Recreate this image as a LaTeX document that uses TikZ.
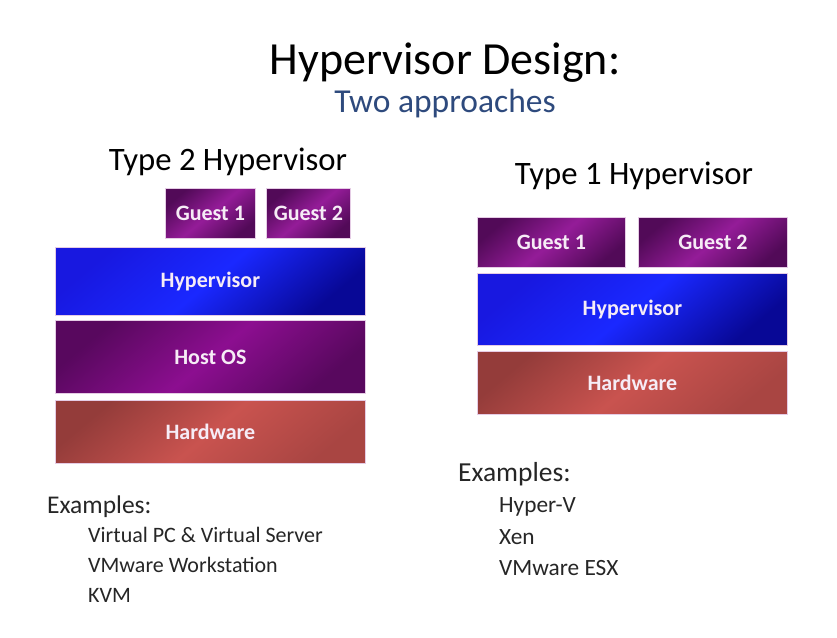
\documentclass[tikz,border=0pt]{standalone}
\usepackage{fontspec}
\setmainfont{Carlito}
\definecolor{subblue}{HTML}{2E4A7D}
\definecolor{txtgray}{HTML}{262626}
\definecolor{gDark}{HTML}{520A58}
\definecolor{gMid}{HTML}{941C98}
\definecolor{hDark}{HTML}{1818E0}
\definecolor{hMid}{HTML}{1A28FF}
\definecolor{hEnd}{HTML}{080896}
\definecolor{oDark}{HTML}{58085E}
\definecolor{oMid}{HTML}{8C0E90}
\definecolor{rDark}{HTML}{943C3A}
\definecolor{rMid}{HTML}{C9534F}
\definecolor{labw}{HTML}{F6ECF6}
\tikzset{
  layer/.style={draw=white!80!violet, line width=0.8pt, anchor=north west, inner sep=0pt,
    text=labw, font=\bfseries\fontsize{22}{25}\selectfont},
  guestbox/.style={layer, top color=gDark, bottom color=gDark, middle color=gMid, shading angle=40},
  hypbox/.style={layer, top color=hDark, bottom color=hEnd, middle color=hMid, shading angle=40},
  hostbox/.style={layer, top color=oDark, bottom color=oDark, middle color=oMid, shading angle=40},
  hwbox/.style={layer, top color=rDark, bottom color=rDark!60!rMid, middle color=rMid, shading angle=40},
  title/.style={anchor=base, inner sep=0pt, text=black, font=\fontsize{46}{52}\selectfont},
  subtitle/.style={anchor=base, inner sep=0pt, text=subblue, font=\fontsize{33.5}{38}\selectfont},
  typelabel/.style={anchor=base, inner sep=0pt, text=black, font=\fontsize{32.7}{38}\selectfont},
  exheadL/.style={anchor=base west, inner sep=0pt, text=txtgray, font=\fontsize{25.5}{29}\selectfont},
  exitemL/.style={anchor=base west, inner sep=0pt, text=txtgray, font=\fontsize{22}{26}\selectfont},
  exheadR/.style={anchor=base west, inner sep=0pt, text=txtgray, font=\fontsize{27.5}{31}\selectfont},
  exitemR/.style={anchor=base west, inner sep=0pt, text=txtgray, font=\fontsize{23.3}{27}\selectfont},
}
\begin{document}
\begin{tikzpicture}[x=1pt,y=-1pt]
\useasboundingbox[fill=white] (0,0) rectangle (837,637);
% titles
\node[title] (t) at (445,74) {Hypervisor Design:};
\node[subtitle] (st) at (445,112) {Two approaches};
% Type 2
\node[typelabel] (t2) at (228,170) {Type 2 Hypervisor};
\node[guestbox, minimum width=90pt, minimum height=50pt] (l2g1) at (165,188) {Guest 1};
\node[guestbox, minimum width=84pt, minimum height=50pt] (l2g2) at (266,188) {Guest 2};
\node[hypbox, minimum width=310pt, minimum height=68pt] (l2hyp) at (55,247) {Hypervisor};
\node[hostbox, minimum width=310pt, minimum height=73pt] (l2os) at (55,320) {Host OS};
\node[hwbox, minimum width=310pt, minimum height=63pt] (l2hw) at (55,400) {Hardware};
% Type 1
\node[typelabel] (t1) at (634,184) {Type 1 Hypervisor};
\node[guestbox, minimum width=148pt, minimum height=50pt] (r1g1) at (477,217) {Guest 1};
\node[guestbox, minimum width=149pt, minimum height=50pt] (r1g2) at (638,217) {Guest 2};
\node[hypbox, minimum width=310pt, minimum height=72pt] (r1hyp) at (477,273) {Hypervisor};
\node[hwbox, minimum width=310pt, minimum height=63pt] (r1hw) at (477,351) {Hardware};
% Examples left
\node[exheadL] (exl) at (47,513) {Examples:};
\node[exitemL] (exl1) at (88,542) {Virtual PC \& Virtual Server};
\node[exitemL] (exl2) at (88,572) {VMware Workstation};
\node[exitemL] (exl3) at (88,602) {KVM};
% Examples right
\node[exheadR] (exr) at (458,481) {Examples:};
\node[exitemR] (exr1) at (499,512) {Hyper-V};
\node[exitemR] (exr2) at (499,544) {Xen};
\node[exitemR] (exr3) at (499,575) {VMware ESX};
\end{tikzpicture}
\end{document}
